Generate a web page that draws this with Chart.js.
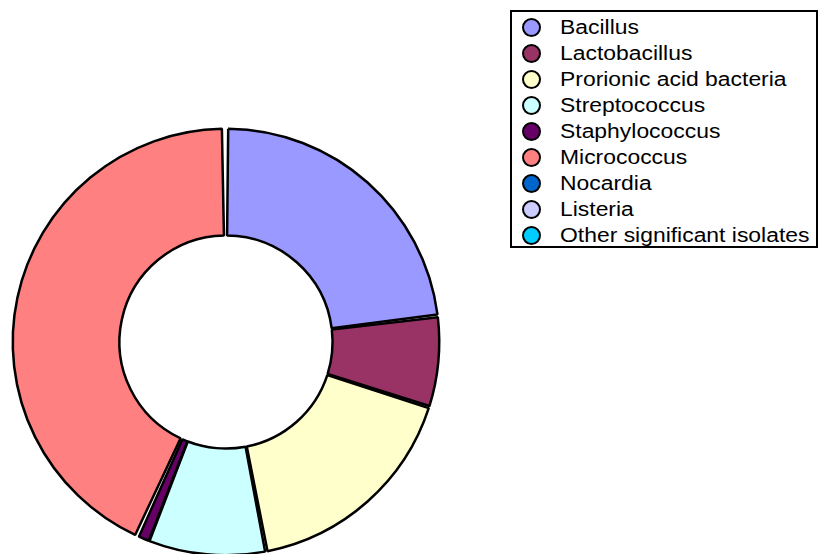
<!DOCTYPE html>
<html>
<head>
<meta charset="utf-8">
<script src="https://cdn.jsdelivr.net/npm/chart.js@4/dist/chart.umd.min.js"></script>
<style>
  html, body { margin: 0; padding: 0; background: #fff; overflow: hidden; width: 818px; height: 554px; }
  #wrap { position: absolute; left: 0; top: 0; width: 452px; height: 684px; }
  #legend {
    position: absolute; left: 510px; top: 10px; width: 304px; height: 234px;
    border: 2px solid #000; background: #fff;
    font-family: "Liberation Sans", Arial, sans-serif; font-size: 20px; color: #000;
  }
  #legend .row { position: absolute; left: 0; height: 26px; line-height: 26px; white-space: nowrap; }
  #legend .dot {
    position: absolute; left: 10px; top: 4px; width: 15px; height: 15px;
    border: 2px solid #000; border-radius: 50%;
  }
  #legend .txt { position: absolute; left: 48px; top: 0; transform: scaleX(1.145); transform-origin: 0 50%; }
</style>
</head>
<body>
<div id="wrap"><canvas id="c"></canvas></div>
<div id="legend"></div>
<script>
// Isolate groups and their share of the isolates (%)
const categories = [
  "Bacillus",
  "Lactobacillus",
  "Prorionic acid bacteria",
  "Streptococcus",
  "Staphylococcus",
  "Micrococcus",
  "Nocardia",
  "Listeria",
  "Other significant isolates"
];
const shares = [23.1, 6.8, 17.1, 8.9, 0.8, 43.3, 0, 0, 0];
const sliceColors = [
  "#9999FF", "#993366", "#FFFFCC", "#CCFFFF", "#660066",
  "#FF8080", "#0066CC", "#CCCCFF", "#00CCFF"
];

// Legend box
const legend = document.getElementById("legend");
categories.forEach((name, i) => {
  const row = document.createElement("div");
  row.className = "row";
  row.style.top = (2 + i * 26) + "px";
  row.innerHTML = '<span class="dot" style="background:' + sliceColors[i] + '"></span>' +
                  '<span class="txt">' + name + '</span>';
  legend.appendChild(row);
});

new Chart(document.getElementById("c"), {
  type: "doughnut",
  data: {
    labels: categories,
    datasets: [{
      data: shares,
      backgroundColor: sliceColors,
      borderColor: "#000",
      borderWidth: 2.5,
      spacing: 4.5
    }]
  },
  options: {
    responsive: true,
    maintainAspectRatio: false,
    animation: false,
    radius: 211,
    cutout: 110,
    layout: { padding: 0 },
    plugins: {
      legend: { display: false },
      tooltip: { enabled: false }
    }
  }
});
</script>
</body>
</html>
